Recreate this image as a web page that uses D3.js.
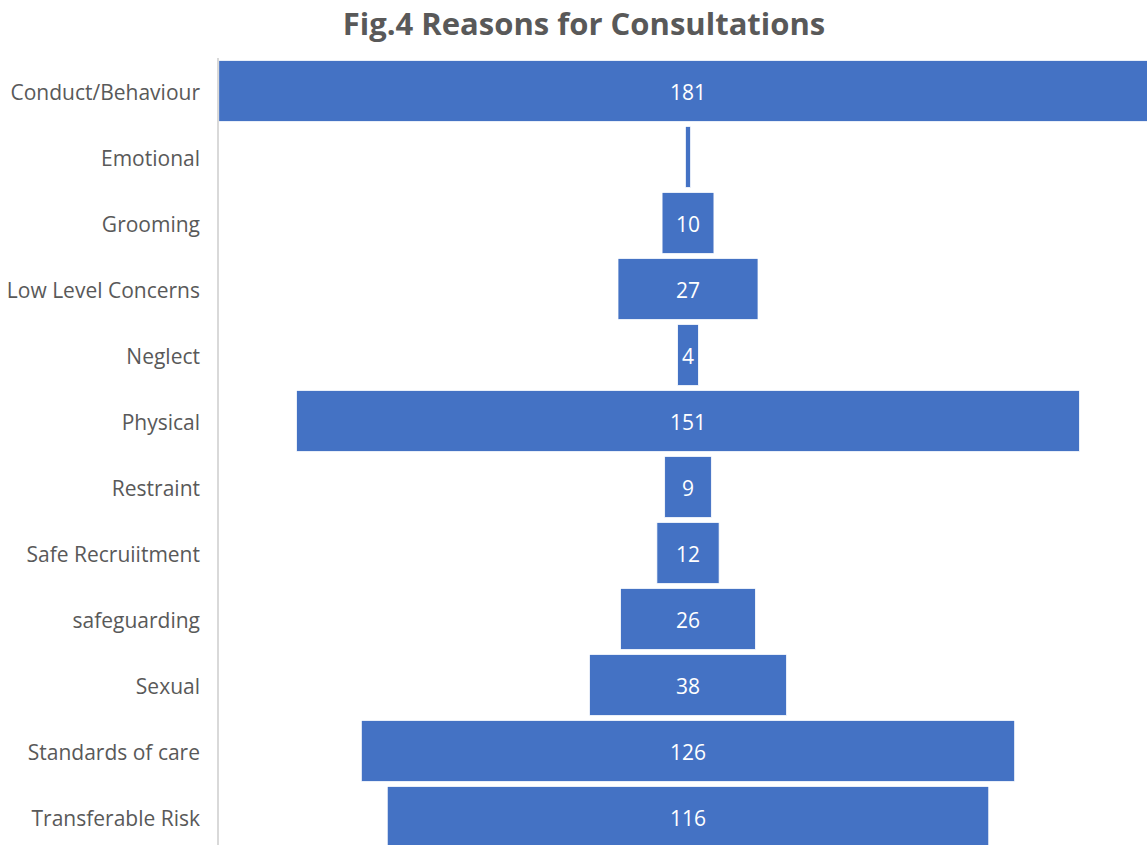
<!DOCTYPE html>
<html>
<head>
<meta charset="utf-8">
<script src="https://cdn.jsdelivr.net/npm/d3@7"></script>
<style>
  html, body { margin: 0; padding: 0; background: #ffffff; }
  svg { display: block; }
</style>
</head>
<body>
<svg id="chart" width="1147" height="845"></svg>
<script>
// Reasons for consultations, one row per category (funnel layout)
const categories = [
  "Conduct/Behaviour", "Emotional", "Grooming", "Low Level Concerns", "Neglect",
  "Physical", "Restraint", "Safe Recruiitment", "safeguarding", "Sexual",
  "Standards of care", "Transferable Risk"
];
const counts = [181, 1, 10, 27, 4, 151, 9, 12, 26, 38, 126, 116];
const title = "Fig.4 Reasons for Consultations";

const svg = d3.select("#chart");
const W = 1147, H = 845;
const centerX = 688;
const axisX = 218;

// Vertical band per category
const y = d3.scaleBand()
  .domain(categories)
  .range([58, 58 + categories.length * 66])
  .paddingInner(5 / 66)
  .paddingOuter(2.5 / 66);

// Bar width proportional to count, centred on the funnel axis
const w = d3.scaleLinear().domain([0, 181]).range([0, 938.5]);

const font = "'Open Sans', 'Noto Sans', sans-serif";

// Title
svg.append("text")
  .attr("x", 584)
  .attr("y", 35)
  .attr("text-anchor", "middle")
  .attr("font-family", font)
  .attr("font-weight", 700)
  .attr("font-size", 31)
  .attr("fill", "#595959")
  .text(title);

// Bars
svg.append("g")
  .selectAll("rect")
  .data(categories)
  .join("rect")
  .attr("x", (d, i) => centerX - w(counts[i]) / 2)
  .attr("y", d => y(d))
  .attr("width", (d, i) => w(counts[i]))
  .attr("height", y.bandwidth())
  .attr("fill", "#4472c4")
  .attr("stroke", "#ffffff")
  .attr("stroke-width", 0.75);

// Category axis (left)
const yAxis = d3.axisLeft(y).tickSize(0).tickPadding(18);
const gAxis = svg.append("g")
  .attr("transform", `translate(${axisX},0)`)
  .call(yAxis);
gAxis.select(".domain")
  .attr("stroke", "#d9d9d9")
  .attr("stroke-width", 2)
  .attr("d", `M0,${y.range()[0]}V${H}`);
gAxis.selectAll("text")
  .attr("font-family", font)
  .attr("font-size", 21)
  .attr("dy", "0.42em")
  .attr("fill", "#595959");

// Value labels inside bars
svg.append("g")
  .selectAll("text")
  .data(categories.filter((d, i) => counts[i] > 1))
  .join("text")
  .attr("x", centerX)
  .attr("y", d => y(d) + y.bandwidth() / 2)
  .attr("dy", "0.42em")
  .attr("text-anchor", "middle")
  .attr("font-family", font)
  .attr("font-size", 21)
  .attr("fill", "#ffffff")
  .text(d => counts[categories.indexOf(d)]);
</script>
</body>
</html>
